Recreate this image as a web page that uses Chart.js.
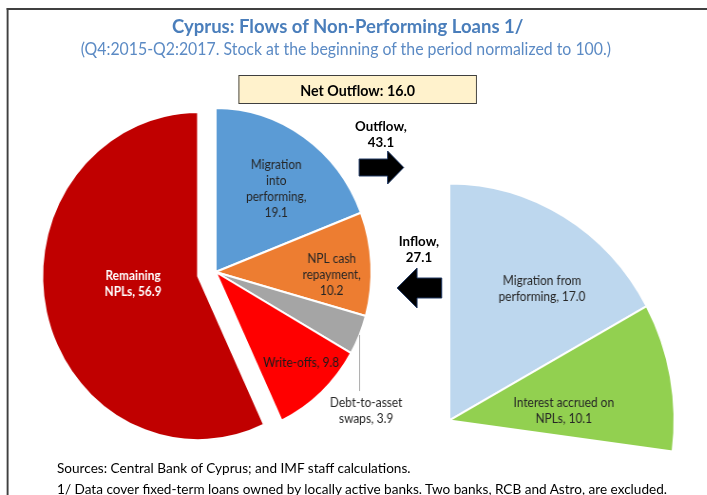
<!DOCTYPE html>
<html>
<head>
<meta charset="utf-8">
<script src="https://cdn.jsdelivr.net/npm/chart.js@4.4.0/dist/chart.umd.min.js"></script>
<style>
  body { margin: 0; background: #fff; width: 707px; height: 495px; overflow: hidden; font-family: Lato, "Noto Sans", sans-serif; }
  /* the original picture is a little condensed horizontally, so draw wide and squeeze */
  #page { position: absolute; left: 0; top: 0; width: 745px; height: 495px; transform: scaleX(0.95); transform-origin: 0 0; }
  .abs { position: absolute; white-space: nowrap; }
  #frameTop { left: 7px; top: 8px; width: 738px; height: 2px; background: #404040; }
  #frameLeft { left: 7px; top: 8px; width: 1.5px; height: 487px; background: #404040; }
  #title { left: 0; width: 732px; top: 14px; text-align: center; font-size: 19.5px; font-weight: bold; color: #4a7ebb; line-height: 1.2; }
  #subtitle { left: 0; width: 728px; top: 39px; text-align: center; font-size: 16.7px; color: #5b8ac4; line-height: 1.2; }
  #netBox { left: 251px; top: 75px; width: 249px; height: 27px; border: 1px solid #3f3f3f; background: #fff2cc;
            display: flex; align-items: center; justify-content: center; font-size: 15px; font-weight: bold; color: #000; }
  .flow { width: 100px; text-align: center; font-size: 14px; font-weight: bold; line-height: 16px; color: #000; }
  .note { left: 60px; font-size: 14.3px; line-height: 1.2; color: #000; }
  canvas { position: absolute; }
</style>
</head>
<body>
<div id="page">
  <div class="abs" id="frameTop"></div>
  <div class="abs" id="frameLeft"></div>
  <div class="abs" id="title">Cyprus: Flows of Non-Performing Loans 1/</div>
  <div class="abs" id="subtitle">(Q4:2015-Q2:2017. Stock at the beginning of the period normalized to 100.)</div>
  <div class="abs" id="netBox"></div>
  <div class="abs flow" id="outflowText" style="left:351px; top:118px;"></div>
  <div class="abs flow" id="inflowText" style="left:391px; top:233px;"></div>
  <svg class="abs" width="745" height="495" style="left:0; top:0;">
    <polygon points="378,159 408,159 408,151 425,167.5 408,184 408,176 378,176" fill="#000" stroke="#1f3864" stroke-width="1"/>
    <polygon points="465,278 439,278 439,268 418,288 439,308 439,298 465,298" fill="#000" stroke="#1f3864" stroke-width="1"/>
  </svg>
  <canvas id="outChart"></canvas>
  <canvas id="inChart"></canvas>
  <div class="abs note" style="top:459px;">Sources: Central Bank of Cyprus; and IMF staff calculations.</div>
  <div class="abs note" style="top:480px;">1/ Data cover fixed-term loans owned by locally active banks. Two banks, RCB and Astro, are excluded.</div>
</div>

<script>
// stock at the beginning of the period = 100
const stockBase = 100;

const outflowCategories = ["Migration\ninto\nperforming", "NPL cash\nrepayment", "Debt-to-asset\nswaps", "Write-offs", "Remaining\nNPLs"];
const outflowValues = [19.1, 10.2, 3.9, 9.8, 56.9];

const inflowCategories = ["Migration from\nperforming", "Interest accrued on\nNPLs"];
const inflowValues = [17.0, 10.1];

const outflowTotal = 43.1;
const inflowTotal = 27.1;
const netOutflow = 16.0;

const outColors = ["#5b9bd5", "#ed7d31", "#a5a5a5", "#ff0000", "#c00000"];
const inColors = ["#bdd7ee", "#92d050"];

// label placement per slice: r = fraction of radius, da = angle nudge in degrees
const outLabelStyle = [
  { sep: ",\n", r: 0.64, da: 3, color: "#262626" },
  { sep: ",\n", r: 0.745, da: 4, color: "#262626" },
  { sep: ", ", leader: 56, dx: 7, color: "#262626" },
  { sep: ", ", r: 0.78, da: -2, color: "#1a1a1a" },
  { sep: ", ", r: 0.42, da: 6, color: "#ffffff", bold: true }
];
const inLabelStyle = [
  { sep: ", ", r: 0.69, da: 6, color: "#262626" },
  { sep: ", ", r: 0.51, da: 6, color: "#262626" }
];

document.getElementById("netBox").textContent = `Net Outflow: ${netOutflow.toFixed(1)}`;
document.getElementById("outflowText").innerHTML = `Outflow,<br>${outflowTotal.toFixed(1)}`;
document.getElementById("inflowText").innerHTML = `Inflow,<br>${inflowTotal.toFixed(1)}`;

// pull slices out of the pie without growing them (chart.js offset also enlarges the arc)
const explode = {
  id: "explode",
  afterDatasetsUpdate(chart, args, opts) {
    const meta = chart.getDatasetMeta(0);
    (opts.slices || []).forEach(([i, d]) => {
      const arc = meta.data[i];
      const mid = (arc.startAngle + arc.endAngle) / 2;
      arc.x += Math.cos(mid) * d;
      arc.y += Math.sin(mid) * d;
    });
  }
};

const sliceLabels = {
  id: "sliceLabels",
  afterDatasetsDraw(chart, args, opts) {
    const ctx = chart.ctx;
    const meta = chart.getDatasetMeta(0);
    const values = chart.data.datasets[0].data;
    const lineH = 16;
    meta.data.forEach((arc, i) => {
      const st = opts.styles[i];
      const p = arc.getProps(["x", "y", "startAngle", "endAngle", "outerRadius"], true);
      const mid = (p.startAngle + p.endAngle) / 2;
      const lines = (chart.data.labels[i] + st.sep + values[i].toFixed(1)).split("\n");
      ctx.save();
      ctx.font = (st.bold ? "bold " : "") + "12.5px Lato, 'Noto Sans', sans-serif";
      ctx.fillStyle = st.color;
      ctx.textAlign = "center";
      ctx.textBaseline = "middle";
      let tx, ty;
      if (st.leader) {
        const ex = p.x + Math.cos(mid) * p.outerRadius;
        const ey = p.y + Math.sin(mid) * p.outerRadius;
        ctx.strokeStyle = "#a6a6a6";
        ctx.lineWidth = 1;
        ctx.beginPath();
        ctx.moveTo(Math.round(ex) + 0.5, ey);
        ctx.lineTo(Math.round(ex) + 0.5, ey + st.leader);
        ctx.stroke();
        tx = ex + st.dx;
        ty = ey + st.leader + 4 + lineH * (lines.length - 1) / 2 + lineH / 2;
      } else {
        const a = mid + st.da * Math.PI / 180;
        tx = p.x + Math.cos(a) * p.outerRadius * st.r;
        ty = p.y + Math.sin(a) * p.outerRadius * st.r;
      }
      lines.forEach((t, k) => ctx.fillText(t, tx, ty + (k - (lines.length - 1) / 2) * lineH));
      ctx.restore();
    });
  }
};

function makePie(canvasId, labels, values, colors, styles, extra) {
  return new Chart(document.getElementById(canvasId), {
    type: "pie",
    data: {
      labels,
      datasets: [{
        data: values,
        backgroundColor: colors,
        borderColor: "#ffffff",
        borderWidth: 2
      }]
    },
    options: {
      responsive: false,
      animation: false,
      events: [],
      radius: extra.radius,
      rotation: 0,
      circumference: extra.circumference || 360,
      layout: { padding: 0 },
      plugins: {
        legend: { display: false },
        tooltip: { enabled: false },
        explode: { slices: extra.explode || [] },
        sliceLabels: { styles }
      }
    },
    plugins: [explode, sliceLabels]
  });
}

// left pie: full stock, remaining NPLs pulled out
const outR = 164, outCx = 227.4, outCy = 272;
const outCanvas = document.getElementById("outChart");
outCanvas.width = 420; outCanvas.height = 420;
outCanvas.style.left = (outCx - 210) + "px";
outCanvas.style.top = (outCy - 210) + "px";
makePie("outChart", outflowCategories, outflowValues, outColors, outLabelStyle,
  { radius: outR, explode: [[4, 19]] });

// right pie: inflows as a share of the same stock
const inR = 237, inCx = 472.6, inCy = 420, pad = 12;
const inSum = inflowValues.reduce((a, b) => a + b, 0);
const inCirc = inSum / stockBase * 360;
const endA = -Math.PI / 2 + inCirc * Math.PI / 180;
const inCanvas = document.getElementById("inChart");
inCanvas.width = Math.ceil(inR + 2 * pad);
inCanvas.height = Math.ceil(inR * (1 + Math.sin(endA)) + 2 * pad);
// chart.js centres the arc's bounding box, which puts the pie centre at (w/2 - R/2, h/2 + R(1-sin)/2)
const pcx = inCanvas.width / 2 - inR / 2;
const pcy = inCanvas.height / 2 + inR * (1 - Math.sin(endA)) / 2;
inCanvas.style.left = (inCx - pcx) + "px";
inCanvas.style.top = (inCy - pcy) + "px";
makePie("inChart", inflowCategories, inflowValues, inColors, inLabelStyle,
  { radius: inR, circumference: inCirc });
</script>
</body>
</html>
